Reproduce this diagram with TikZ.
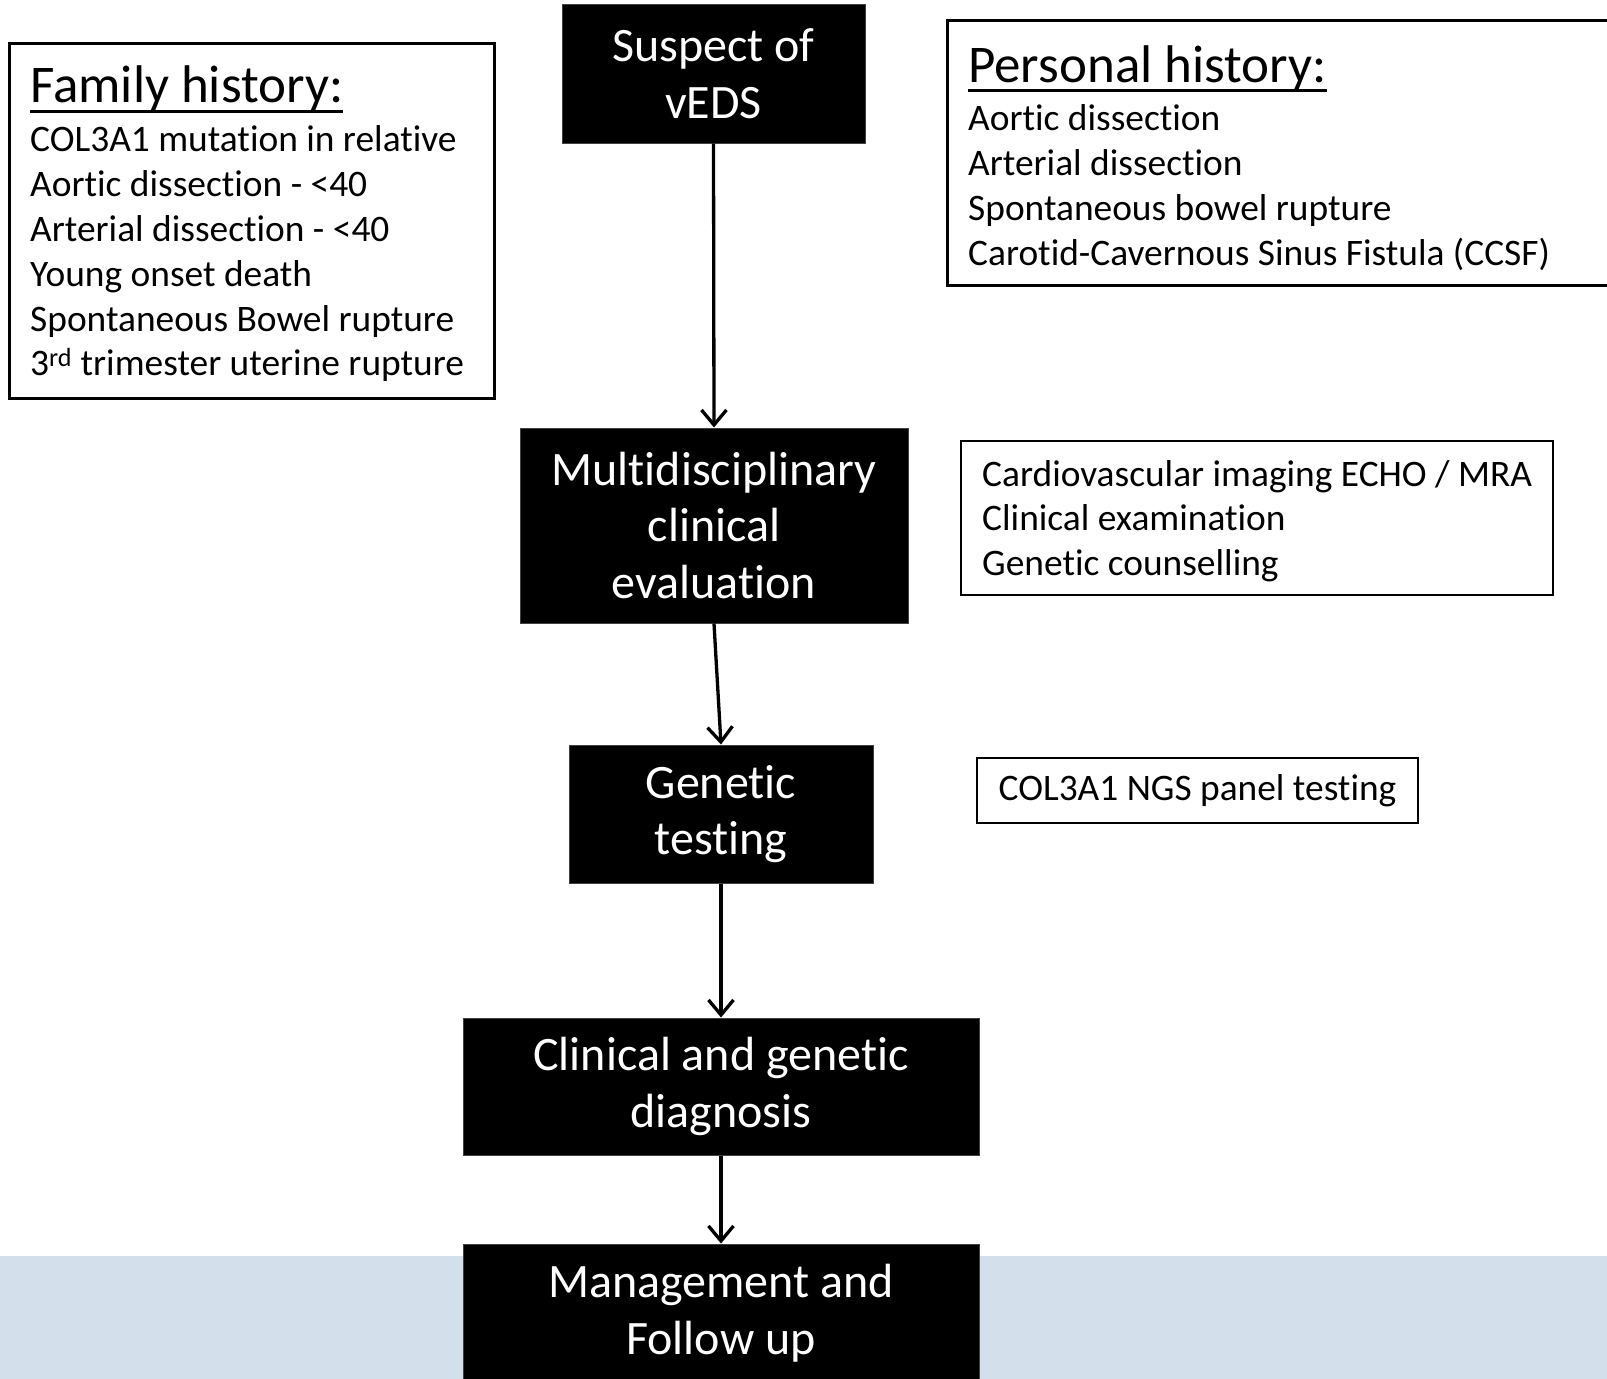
\documentclass[tikz,border=0pt]{standalone}
\usepackage{fontspec}
\setmainfont{Carlito}[Ligatures=NoCommon]
\usetikzlibrary{arrows.meta}
\definecolor{bandblue}{HTML}{D3DFEB}
\newcommand\ulhead[1]{\setbox0\hbox{#1}\rlap{\rule[-10pt]{\wd0}{3pt}}\box0}
\begin{document}
\begin{tikzpicture}[x=1pt,y=-1pt,
  blackbox/.style={draw=black!75, line width=1pt, fill=black, text=white, align=center,
    font=\fontsize{48}{56.5}\selectfont, inner sep=0pt},
  infobox/.style={draw=black, line width=3pt, fill=white, inner sep=0pt},
  infotext/.style={align=flush left, inner sep=0pt, anchor=base west, text width=640pt,
    font=\fontsize{37.4}{44.8}\selectfont},
  flow/.style={line width=3.3pt, -{Straight Barb[length=15pt,width=25pt]}}]
\useasboundingbox (0,0) rectangle (1607,1379);
\fill[bandblue] (0,1256) rectangle (1607,1379);

% left info box
\node[infobox, minimum width=485.5pt, minimum height=355pt] (fam) at (252,220.5) {};
\node[infotext] (famtext) at (30,102.5)
  {{\fontsize{53}{53}\selectfont\ulhead{Family history:}}\\[4.5pt]
   COL3A1 mutation in relative\\
   Aortic dissection - <40\\
   Arterial dissection - <40\\
   Young onset death\\
   Spontaneous Bowel rupture\\
   3\textsuperscript{rd} trimester uterine rupture};

% right info box (runs off the right edge)
\node[infobox, minimum width=713pt, minimum height=264.5pt] (pers) at (1303.5,152.75) {};
\node[infotext] (perstext) at (968,82)
  {{\fontsize{53}{53}\selectfont\ulhead{Personal history:}}\\[4pt]
   Aortic dissection\\
   Arterial dissection\\
   Spontaneous bowel rupture\\
   Carotid-Cavernous Sinus Fistula (CCSF)};

\node[infobox, line width=2.5pt, minimum width=592pt, minimum height=154pt] (cardio) at (1257,518) {};
\node[infotext] (cardiotext) at (982,486)
  {Cardiovascular imaging ECHO / MRA\\
   Clinical examination\\
   Genetic counselling};

\node[infobox, line width=2.5pt, minimum width=441pt, minimum height=65pt,
  font=\fontsize{37.4}{44.8}\selectfont] (ngs) at (1197.5,790.5)
  {COL3A1 NGS panel testing};

% main flow
\node[blackbox, minimum width=303pt, minimum height=139pt] (susp) at (713.5,73.5)
  {Suspect of\\vEDS};
\node[blackbox, minimum width=388pt, minimum height=195pt] (multi) at (714,525.5)
  {Multidisciplinary\\clinical\\evaluation};
\node[blackbox, minimum width=304pt, minimum height=138pt] (gen) at (721,814)
  {Genetic\\testing};
\node[blackbox, minimum width=516pt, minimum height=137pt] (diag) at (721,1086.5)
  {Clinical and genetic\\diagnosis};
\node[blackbox, minimum width=516pt, minimum height=138pt] (mgmt) at (721,1313)
  {Management and\\Follow up};

\draw[flow] (susp.south) -- (multi.north);
\draw[flow] (multi.south) -- (gen.north);
\draw[flow] (gen.south) -- (diag.north);
\draw[flow] (diag.south) -- (mgmt.north);
\end{tikzpicture}
\end{document}
